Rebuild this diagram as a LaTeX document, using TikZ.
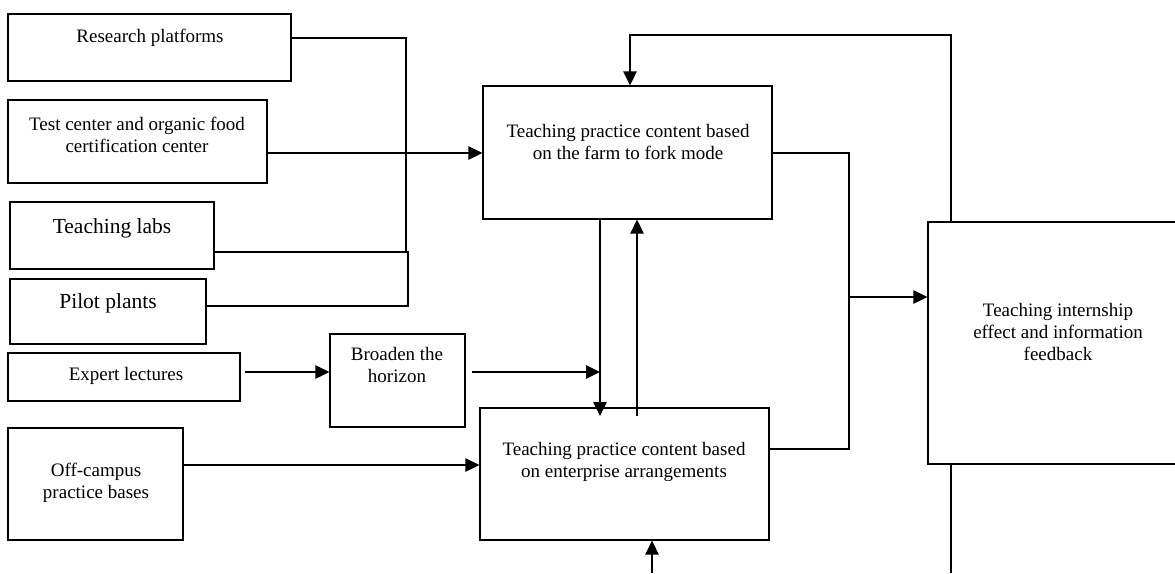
\documentclass[tikz,border=0pt]{standalone}
\usepackage{fontspec}
\setmainfont{Liberation Serif}
\usetikzlibrary{arrows.meta}
\begin{document}
\begin{tikzpicture}[x=1pt,y=-1pt,
  box/.style={draw, line width=1.3pt, inner sep=0pt},
  txt/.style={align=center, inner sep=0pt, font=\fontsize{19}{22}\selectfont},
  bigtxt/.style={align=center, inner sep=0pt, font=\fontsize{21.5}{24}\selectfont},
  conn/.style={line width=1.3pt},
  arr/.style={line width=1.3pt, -{Triangle[length=14pt,width=13.5pt]}}]
\useasboundingbox (0,0) rectangle (1175,573);
% boxes
\node[box, minimum width=283pt, minimum height=67pt] (rp) at (149.5,47.5) {};
\node[box, minimum width=259pt, minimum height=83pt] (tc) at (137.5,141.5) {};
\node[box, minimum width=204pt, minimum height=67pt] (tl) at (112,235.5) {};
\node[box, minimum width=196pt, minimum height=65pt] (pp) at (108,311.5) {};
\node[box, minimum width=232pt, minimum height=48pt] (el) at (124,377) {};
\node[box, minimum width=135pt, minimum height=93pt] (bh) at (397.5,380.5) {};
\node[box, minimum width=175pt, minimum height=112pt] (oc) at (95.5,484) {};
\node[box, minimum width=289pt, minimum height=133pt] (ff) at (627.5,152.5) {};
\node[box, minimum width=289pt, minimum height=132pt] (ea) at (624.5,474) {};
\node[box, minimum width=260pt, minimum height=242pt] (fb) at (1058,343) {};
% texts
\node[txt] (rpt) at (150,38) {Research platforms};
\node[txt] (tct) at (137,135) {Test center and organic food\\certification center};
\node[bigtxt] (tlt) at (112,228) {Teaching labs};
\node[bigtxt] (ppt) at (108,303) {Pilot plants};
\node[txt] (elt) at (126,376) {Expert lectures};
\node[txt] (bht) at (397,365) {Broaden the\\horizon};
\node[txt] (oct) at (96,483) {Off-campus\\practice bases};
\node[txt] (fft) at (628,142) {Teaching practice content based\\on the farm to fork mode};
\node[txt] (eat) at (624,462) {Teaching practice content based\\on enterprise arrangements};
\node[txt] (fbt) at (1058,332) {Teaching internship\\effect and information\\feedback};
% coordinates
\coordinate (b1) at (406,38);
\coordinate (b2) at (406,252);
\coordinate (b3) at (408,252);
\coordinate (b4) at (408,306);
\coordinate (m1) at (600,372);
\coordinate (d1) at (600,416);
\coordinate (u1) at (637,416);
\coordinate (r1) at (849,153);
\coordinate (r2) at (849,449);
\coordinate (r3) at (849,297);
\coordinate (t1) at (951,35);
\coordinate (t2) at (630,35);
\coordinate (bot1) at (652,573);
\coordinate (bot2) at (951,573);
% connectors
\draw[conn] (rp.east |- b1) -- (b1) -- (b2);
\draw[conn] (tl.east |- b3) -- (b3) -- (b4) -- (pp.east |- b4);
\draw[arr] (tc.east |- 0,153) -- (ff.west |- 0,153);
\draw[arr] ([xshift=4pt]el.east |- 0,372) -- (bh.west |- 0,372);
\draw[arr] ([xshift=6pt]bh.east |- m1) -- (m1);
\draw[arr] (ff.south -| d1) -- (d1);
\draw[arr] (u1) -- (ff.south -| u1);
\draw[arr] (oc.east |- 0,465) -- (ea.west |- 0,465);
\draw[conn] (ff.east |- r1) -- (r1) -- (r2) -- (ea.east |- r2);
\draw[arr] (r3) -- (fb.west |- r3);
\draw[arr] (fb.north -| t1) -- (t1) -- (t2) -- (ff.north -| t2);
\draw[arr] (bot1) -- (ea.south -| bot1);
\draw[conn] (fb.south -| bot2) -- (bot2);
\end{tikzpicture}
\end{document}
